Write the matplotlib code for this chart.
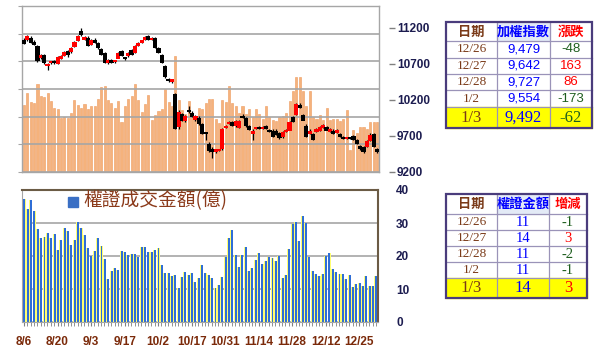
import numpy as np
import matplotlib.pyplot as plt
from matplotlib.patches import Rectangle

# ---- data ----
x_labels = ['8/6', '8/20', '9/3', '9/17', '10/2', '10/17', '10/31', '11/14', '11/28', '12/12', '12/25']

# 大盤成交量 (orange bars, no scale shown)
volume = [1208, 1419, 1268, 1250, 1594, 1377, 1353, 1419, 1292, 1153,
          1135, 984, 1002, 984, 1063, 1304, 1208, 1165, 1220, 1135,
          1184, 1184, 1316, 1534, 1558, 1304, 1256, 1165, 1292, 912,
          1184, 1322, 1365, 1588, 1304, 1093, 1226, 1395, 942, 1033,
          1111, 1135, 1498, 1268, 1196, 2089, 1300, 1123, 1045, 1292,
          1051, 1002, 1153, 1135, 1256, 1328, 1328, 966, 882, 1304,
          1274, 1546, 1256, 1196, 1075, 1184, 1045, 1135, 1002, 1135,
          1045, 966, 1184, 990, 942, 930, 1002, 1014, 1075, 1286,
          1455, 1710, 1710, 1455, 1184, 1455, 1002, 966, 1033, 942,
          1153, 942, 966, 966, 930, 966, 1123, 398, 760, 700,
          820, 820, 770, 910, 900, 910]

# 加權指數 K 線
opens = [11040, 11030, 11070, 11010, 10955, 10785, 10830, 10670, 10715, 10730,
         10705, 10772, 10818, 10878, 10864, 10938, 11018, 11160, 11035, 11070,
         10970, 11040, 10990, 10910, 10860, 10725, 10760, 10730, 10780, 10880,
         10795, 10810, 10900, 10855, 10960, 11000, 11040, 11090, 11040, 11065,
         10925, 10830, 10670, 10490, 10460, 10285, 9830, 10010, 9920, 10050,
         10030, 9930, 9960, 9870, 9755, 9600, 9530, 9490, 9495, 9520,
         9820, 9870, 9905, 9840, 9820, 9990, 9950, 9840, 9740, 9800,
         9830, 9800, 9840, 9790, 9781, 9781, 9744, 9688, 9758, 9781,
         9968, 9991, 10131, 9991, 9851, 9734, 9734, 9758, 9772, 9818,
         9828, 9758, 9781, 9744, 9734, 9688, 9665, 9672, 9711, 9650,
         9571, 9548, 9548, 9641, 9734, 9510]
highs = [11060, 11100, 11080, 11030, 10960, 10840, 10840, 10710, 10740, 10745,
         10805, 10825, 10870, 10885, 10930, 11010, 11100, 11190, 11085, 11080,
         11040, 11050, 10995, 10915, 10865, 10770, 10770, 10750, 10865, 10890,
         10800, 10860, 10905, 10965, 11000, 11025, 11090, 11100, 11075, 11070,
         10930, 10835, 10680, 10500, 10490, 10290, 10060, 10020, 9990, 10120,
         10040, 9990, 9975, 9880, 9760, 9610, 9540, 9510, 9510, 9810,
         9850, 9910, 9910, 9915, 9920, 10010, 9960, 9850, 9790, 9830,
         9840, 9840, 9845, 9795, 9790, 9790, 9750, 9765, 9790, 9905,
         9975, 10160, 10150, 10000, 9860, 9790, 9740, 9810, 9835, 9870,
         9835, 9810, 9790, 9795, 9740, 9700, 9680, 9680, 9715, 9660,
         9580, 9555, 9650, 9735, 9745, 9530]
lows = [10975, 11020, 10990, 10960, 10720, 10770, 10700, 10620, 10690, 10700,
        10700, 10765, 10810, 10800, 10855, 10930, 11010, 11090, 11025, 10950,
        10960, 10985, 10910, 10815, 10710, 10700, 10715, 10715, 10775, 10810,
        10755, 10800, 10825, 10850, 10950, 10990, 11030, 11035, 11035, 10920,
        10850, 10710, 10500, 10450, 10440, 9790, 9790, 9900, 9890, 10020,
        9960, 9900, 9850, 9720, 9650, 9480, 9400, 9470, 9485, 9510,
        9810, 9860, 9840, 9830, 9810, 9950, 9830, 9780, 9650, 9790,
        9790, 9790, 9800, 9750, 9680, 9715, 9660, 9675, 9750, 9775,
        9890, 9985, 10090, 9915, 9680, 9720, 9640, 9750, 9765, 9810,
        9775, 9750, 9730, 9740, 9680, 9655, 9655, 9660, 9640, 9590,
        9505, 9470, 9540, 9630, 9545, 9470]
closes = [10985, 11088, 10995, 10970, 10745, 10830, 10715, 10700, 10728, 10712,
          10799, 10818, 10864, 10831, 10925, 11004, 11097, 11100, 11078, 10960,
          11030, 10995, 10920, 10825, 10725, 10760, 10725, 10738, 10860, 10820,
          10770, 10855, 10831, 10960, 10995, 11018, 11085, 11041, 11070, 10925,
          10860, 10720, 10520, 10470, 10481, 9806, 10045, 9921, 9982, 10040,
          9975, 9980, 9868, 9730, 9735, 9495, 9480, 9500, 9505, 9800,
          9840, 9905, 9850, 9910, 9915, 9960, 9840, 9790, 9780, 9820,
          9800, 9835, 9805, 9760, 9688, 9725, 9678, 9758, 9781, 9898,
          9898, 10154, 10098, 9921, 9688, 9781, 9650, 9804, 9828, 9865,
          9781, 9804, 9734, 9790, 9688, 9665, 9672, 9668, 9650, 9600,
          9527, 9479, 9642, 9727, 9554, 9492]

# 權證成交金額(億)
warrant = [37.2, 34.3, 37.0, 33.6, 28.2, 25.6, 25.9, 27.0, 25.6, 26.8,
           21.8, 24.8, 28.4, 27.7, 23.3, 24.8, 30.3, 28.5, 26.4, 22.4,
           20.0, 21.5, 25.5, 23.0, 19.0, 13.0, 15.5, 16.4, 15.9, 21.5,
           21.2, 20.3, 20.5, 20.5, 19.8, 22.8, 22.6, 21.1, 21.1, 21.9,
           22.4, 17.4, 15.0, 14.7, 14.0, 14.1, 10.3, 13.6, 15.2, 14.3,
           15.0, 12.1, 13.2, 17.3, 14.7, 14.3, 13.2, 10.2, 11.1, 13.6,
           19.7, 25.5, 27.8, 20.4, 16.8, 20.4, 22.7, 15.5, 16.4, 18.7,
           20.9, 17.6, 18.4, 19.7, 19.3, 18.6, 20.0, 13.2, 14.2, 22.1,
           29.6, 30.4, 24.5, 32.1, 29.9, 19.7, 15.6, 14.4, 14.0, 14.4,
           20.1, 21.0, 16.0, 15.1, 14.6, 14.4, 12.9, 14.1, 10.5, 11.4,
           11.8, 11, 14, 11, 11, 14]

# 右側表格
tbl_dates = ['12/26', '12/27', '12/28', '1/2', '1/3']
tbl1_head = ['日期', '加權指數', '漲跌']
tbl1_index = ['9,479', '9,642', '9,727', '9,554', '9,492']
tbl1_chg = ['-48', '163', '86', '-173', '-62']
tbl2_head = ['日期', '權證金額', '增減']
tbl2_amt = ['11', '14', '11', '11', '14']
tbl2_chg = ['-1', '3', '-2', '-1', '3']

W, H = 598, 351
BROWN = '#7A3A18'
BLUE = '#0000FF'
RED = '#FF0000'
GREEN = '#1E5E1E'
NAVY = '#1C1C50'
GRID = '#A6A6A6'

# tick labels are bold Arial-like everywhere
plt.rcParams['font.family'] = ['Liberation Sans', 'DejaVu Sans']
plt.rcParams['font.weight'] = 'bold'


def px_rect(l, t, r, b):
    # pixel box -> figure fraction
    return [l / W, 1 - b / H, (r - l) / W, (b - t) / H]


fig = plt.figure(figsize=(W / 100, H / 100), dpi=100)
n = len(warrant)
x = np.arange(n)

# ---------- 上圖: 成交量 + K 線 ----------
ax1 = fig.add_axes(px_rect(22, 6, 379, 172))
ax1.bar(x, volume, width=0.62, color='#F5B27C', edgecolor='#EE9A5C', linewidth=0.4)
ax1.set_ylim(0, 3000)
ax1.set_yticks(np.arange(0, 3001, 500))
ax1.set_xlim(-0.6, n - 0.4)
ax1.yaxis.grid(True, color=GRID, linewidth=1.2)
ax1.set_axisbelow(False)
ax1.tick_params(axis='y', labelleft=False, length=3, color=GRID)
ax1.tick_params(axis='x', bottom=False, labelbottom=False)
for s in ax1.spines.values():
    s.set_color(GRID)
    s.set_linewidth(1.0)

ax1p = ax1.twinx()
ax1p.set_ylim(9200, 11500)
ax1p.set_yticks(range(9200, 11201, 500))
for s in ax1p.spines.values():
    s.set_visible(False)
ax1p.spines['right'].set_position(('outward', 7))
ax1p.tick_params(axis='y', length=4, width=1, color='#808080', pad=2,
                 labelsize=8.5, labelcolor=NAVY)

o = np.array(opens)
c = np.array(closes)
up = c >= o
ax1p.vlines(x, lows, highs, color='black', linewidth=0.9, zorder=2)
ax1p.bar(x, np.maximum(np.abs(c - o), 30), bottom=np.minimum(o, c) - 8, width=1.25,
         color=np.where(up, '#FF0000', '#000000'), zorder=3)

# ---------- 下圖: 權證成交金額 ----------
ax2 = fig.add_axes(px_rect(22, 190, 378, 322))
ax2.bar(x, warrant, width=0.9, color='#FFFF70')
ax2.bar(x + 0.12, warrant, width=0.58, color='#2F6ED6')
ax2.set_xlim(-0.6, n - 0.4)
ax2.set_ylim(0, 40)
ax2.set_yticks(range(0, 41, 10))
ax2.yaxis.grid(True, color=GRID, linewidth=1.2)
ax2.set_axisbelow(True)
ax2.yaxis.tick_right()
ax2.tick_params(axis='y', length=0, pad=13, labelsize=8.5, labelcolor=NAVY)
ax2.set_xticks(x[::10])
ax2.set_xticklabels(x_labels)
ax2.set_xticks(x, minor=True)
ax2.tick_params(axis='x', which='both', length=3, color='#808080', pad=7,
                labelsize=8.5, labelcolor='#7B2A0A')
for k in ['left', 'bottom']:
    ax2.spines[k].set_color(GRID)
for k in ['top', 'right']:
    ax2.spines[k].set_color('#6B5B45')
    ax2.spines[k].set_linewidth(1.5)

# ---------- 疊圖層 (像素座標) ----------
ov = fig.add_axes([0, 0, 1, 1])
ov.set_xlim(0, W)
ov.set_ylim(H, 0)
ov.axis('off')
ov.patch.set_alpha(0)

# 圖例
ov.add_patch(Rectangle((68, 197), 10, 10, color='#3A6FC4'))
ov.text(83, 201, '權證成交金額(億)', fontsize=13.5, family='Noto Sans CJK TC',
        fontweight='normal', color='#8B3A1A', va='center', ha='left')


def chg_color(s):
    return GREEN if s.startswith('-') else RED


def draw_table(xs, ys, heads, vals, chgs, val_family, val_size):
    ov.add_patch(Rectangle((xs[0], ys[-2]), xs[-1] - xs[0], ys[-1] - ys[-2],
                           color='#FFFF00', zorder=1))
    ov.add_patch(Rectangle((xs[1], ys[0]), xs[2] - xs[1], ys[1] - ys[0],
                           color='#E3EAF6', zorder=1))
    for yy in ys[1:-1]:
        ov.plot([xs[0], xs[-1]], [yy, yy], color='#9A93B8', lw=0.9, zorder=2)
    for xx in xs[1:-1]:
        ov.plot([xx, xx], [ys[0], ys[-1]], color='#9A93B8', lw=0.9, zorder=2)
    ov.add_patch(Rectangle((xs[0], ys[0]), xs[-1] - xs[0], ys[-1] - ys[0],
                           fill=False, edgecolor='#4A3C7C', lw=1.6, zorder=4))
    cx = [(xs[i] + xs[i + 1]) / 2 for i in range(3)]
    hc = [BROWN, BLUE, RED]
    for i in range(3):
        ov.text(cx[i], (ys[0] + ys[1]) / 2, heads[i], fontsize=9.5, color=hc[i],
                family='Noto Sans CJK TC', fontweight='bold', ha='center', va='center', zorder=5)
    for r in range(5):
        cy = (ys[r + 1] + ys[r + 2]) / 2
        last = r == 4
        ov.text(cx[0], cy, tbl_dates[r], fontsize=12 if last else 9.5, color=BROWN,
                family='Liberation Serif', fontweight='normal', ha='center', va='center', zorder=5)
        ov.text(cx[1], cy, vals[r], fontsize=12 if last else val_size, color=BLUE,
                family='Liberation Serif' if last else val_family, fontweight='normal',
                ha='center', va='center', zorder=5)
        ov.text(cx[2], cy, chgs[r], fontsize=12 if last else val_size, color=chg_color(chgs[r]),
                family='Liberation Serif' if last else val_family, fontweight='normal',
                ha='center', va='center', zorder=5)


draw_table([446, 497, 550, 592], [22, 41, 57.7, 74, 90.3, 106.7, 128.3],
           tbl1_head, tbl1_index, tbl1_chg, 'Liberation Sans', 9.5)
draw_table([446, 497, 549, 587], [194, 214.3, 230, 246, 262.3, 278.3, 298.3],
           tbl2_head, tbl2_amt, tbl2_chg, 'Liberation Serif', 10.5)

fig.savefig('out.png', dpi=100)
